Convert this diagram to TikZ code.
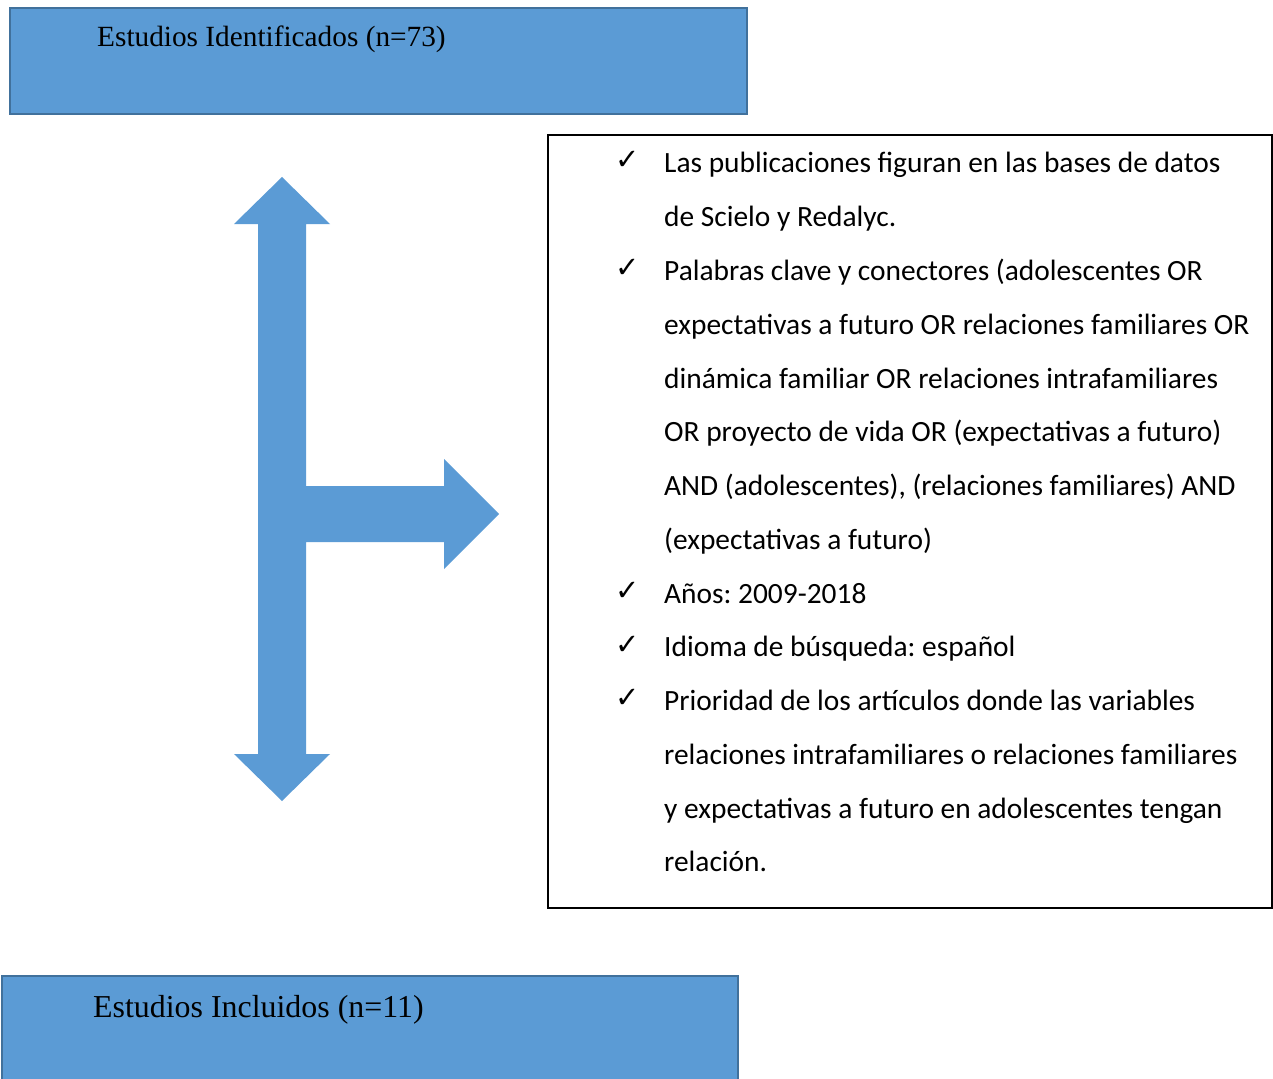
\documentclass[tikz,border=0pt]{standalone}
\usepackage{fontspec}
\setmainfont{Liberation Serif}
\newfontfamily\listfont{Carlito}
\newfontfamily\tickfont{DejaVu Sans}
\definecolor{boxblue}{HTML}{5B9BD5}
\definecolor{boxedge}{HTML}{41719C}
\frenchspacing

\begin{document}
\begin{tikzpicture}[x=1pt,y=-1pt,
  bluebox/.style={fill=boxblue,draw=boxedge,line width=2pt},
  title/.style={anchor=base west,inner sep=0pt},
  item/.style={anchor=base west,inner sep=0pt,
    font=\listfont\fontsize{29.4}{31}\selectfont},
  tick/.style={anchor=base west,inner sep=0pt,
    font=\tickfont\fontsize{29}{31}\selectfont}]
  \useasboundingbox (0,0) rectangle (1273,1078);
  % top and bottom boxes
  \draw[bluebox] (10,8) rectangle (747,114);
  \node[title,font=\fontsize{29.3}{31}\selectfont] (ident) at (97,47)
    {Estudios Identificados (n=73)};
  \draw[bluebox] (2,976) rectangle (738,1084);
  \node[title,font=\fontsize{31.9}{33}\selectfont] (incl) at (93,1017)
    {Estudios Incluidos (n=11)};
  % block arrow
  \fill[boxblue] (258,224) -- (234,224) -- (282,177) -- (330,224)
    -- (306,224) -- (306,486) -- (444,486) -- (444,459) -- (499,514)
    -- (444,569) -- (444,542) -- (306,542) -- (306,754) -- (330,754)
    -- (282,801) -- (234,754) -- (258,754) -- cycle;
  % criteria box
  \draw[line width=2pt] (548,135) rectangle (1272,908);
  \node[tick] (c1) at (615,170) {✓};
  \node[tick] (c2) at (615,277) {✓};
  \node[tick] (c3) at (615,600) {✓};
  \node[tick] (c4) at (615,654) {✓};
  \node[tick] (c5) at (615,707) {✓};
  \node[item] (l1) at (664,173)
    {Las publicaciones figuran en las bases de datos};
  \node[item] (l2) at (664,226.75) {de Scielo y Redalyc.};
  \node[item] (l3) at (664,280.5)
    {Palabras clave y conectores (adolescentes OR};
  \node[item] (l4) at (664,334.25)
    {expectativas a futuro OR relaciones familiares OR};
  \node[item] (l5) at (664,388)
    {dinámica familiar OR relaciones intrafamiliares};
  \node[item] (l6) at (664,441.75)
    {OR proyecto de vida OR (expectativas a futuro)};
  \node[item] (l7) at (664,495.5)
    {AND (adolescentes), (relaciones familiares) AND};
  \node[item] (l8) at (664,549.25) {(expectativas a futuro)};
  \node[item] (l9) at (664,603) {Años: 2009-2018};
  \node[item] (l10) at (664,656.75) {Idioma de búsqueda: español};
  \node[item] (l11) at (664,710.5)
    {Prioridad de los artículos donde las variables};
  \node[item] (l12) at (664,764.25)
    {relaciones intrafamiliares o relaciones familiares};
  \node[item] (l13) at (664,818)
    {y expectativas a futuro en adolescentes tengan};
  \node[item] (l14) at (664,871.75) {relación.};
\end{tikzpicture}
\end{document}
